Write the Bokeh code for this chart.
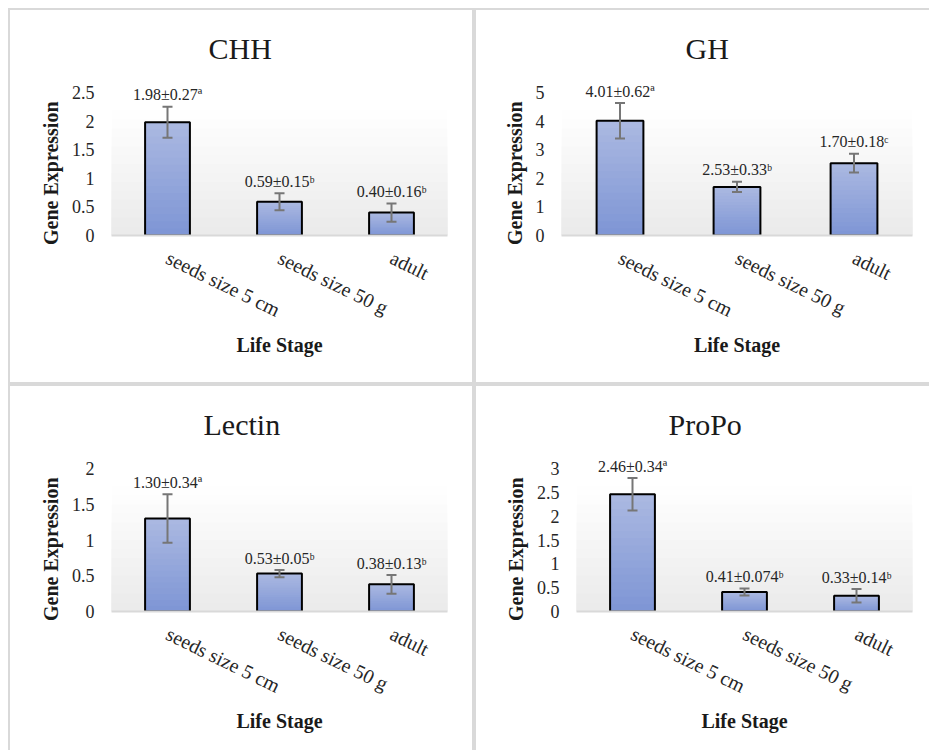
import math
from bokeh.plotting import figure
from bokeh.models import (FactorRange, Range1d, FixedTicker, LabelSet, Whisker, Title,
                          ColumnDataSource, BoxAnnotation, TeeHead)
from bokeh.layouts import row, column
from bokeh.embed import file_html
from bokeh.resources import INLINE

# ---------------- data ----------------
CATEGORIES = ["seeds size 5 cm", "seeds size 50 g", "adult"]

CHH_MEAN = [1.98, 0.59, 0.40]
CHH_ERR = [0.27, 0.15, 0.16]
CHH_LABELS = ["1.98±0.27ª", "0.59±0.15ᵇ", "0.40±0.16ᵇ"]
CHH_TICKS = [0, 0.5, 1, 1.5, 2, 2.5]

GH_MEAN = [4.01, 1.70, 2.53]
GH_ERR = [0.62, 0.18, 0.33]
GH_LABELS = ["4.01±0.62ª", "2.53±0.33ᵇ", "1.70±0.18ᶜ"]
GH_TICKS = [0, 1, 2, 3, 4, 5]

LECTIN_MEAN = [1.30, 0.53, 0.38]
LECTIN_ERR = [0.34, 0.05, 0.13]
LECTIN_LABELS = ["1.30±0.34ª", "0.53±0.05ᵇ", "0.38±0.13ᵇ"]
LECTIN_TICKS = [0, 0.5, 1, 1.5, 2]

PROPO_MEAN = [2.46, 0.41, 0.33]
PROPO_ERR = [0.34, 0.074, 0.14]
PROPO_LABELS = ["2.46±0.34ª", "0.41±0.074ᵇ", "0.33±0.14ᵇ"]
PROPO_TICKS = [0, 0.5, 1, 1.5, 2, 2.5, 3]

X_TITLE = "Life Stage"
Y_TITLE = "Gene Expression"

SERIF = "Liberation Serif"
BORDER = "2px solid #d9d9d9"
TOPTICK = 82   # canvas y of the highest tick


def lerp(c1, c2, t):
    return "#%02x%02x%02x" % tuple(round(a + (b - a) * t) for a, b in zip(c1, c2))


def panel(title, mean, err, labels, ticks, w, h, L, R, T, B, title_left, borders):
    ymax = ticks[-1]
    y_end = ymax * (B - T) / (B - TOPTICK)
    p = figure(x_range=FactorRange(*CATEGORIES, range_padding=0),
               y_range=Range1d(0, y_end),
               width=w, height=h, output_backend="svg", toolbar_location=None,
               min_border_left=L, min_border_right=w - R,
               min_border_top=T, min_border_bottom=h - B,
               background_fill_color="white", border_fill_color="white",
               outline_line_color=None, title=None,
               styles={k: BORDER for k in borders})
    p.grid.grid_line_color = None

    # plot-area gradient (white at top -> light grey at bottom)
    n_bg = 14
    for k in range(n_bg):
        frac = (n_bg - k) / n_bg
        col = lerp((255, 255, 255), (234, 234, 234), (k + 0.5) / n_bg)
        p.add_layout(BoxAnnotation(bottom=0, top=ymax * 0.875 * frac, fill_color=col,
                                   fill_alpha=1, line_color=None, level="underlay"))

    # bars with vertical gradient fill
    n_sl = 16
    top_c, bot_c = (170, 184, 225), (127, 150, 213)
    for k in range(n_sl):
        frac = (n_sl - k) / n_sl
        col = lerp(top_c, bot_c, k / (n_sl - 1))
        p.vbar(x=CATEGORIES, top=[m * frac for m in mean], width=0.4,
               fill_color=col, line_color=None)
    p.vbar(x=CATEGORIES, top=mean, width=0.4, fill_color=None,
           line_color="#000000", line_width=2)

    src = ColumnDataSource(dict(x=CATEGORIES,
                                upper=[m + e for m, e in zip(mean, err)],
                                lower=[m - e for m, e in zip(mean, err)],
                                text=labels))
    wc = "#767676"
    p.add_layout(Whisker(base="x", upper="upper", lower="lower", source=src,
                         line_color=wc, line_width=2, level="annotation",
                         upper_head=TeeHead(size=10, line_color=wc, line_width=2),
                         lower_head=TeeHead(size=10, line_color=wc, line_width=2)))
    p.add_layout(LabelSet(x="x", y="upper", text="text", source=src, y_offset=12,
                          text_align="center", text_baseline="middle",
                          text_font=SERIF, text_font_size="16px", text_color="#262626"))

    # axes
    p.yaxis.ticker = FixedTicker(ticks=ticks)
    p.yaxis.major_label_overrides = {t: f"{t:g}" for t in ticks}
    p.yaxis.axis_line_color = None
    p.yaxis.major_tick_line_color = None
    p.yaxis.minor_tick_line_color = None
    p.yaxis.major_tick_out = 0
    p.yaxis.major_tick_in = 0
    p.yaxis.major_label_standoff = 17
    p.yaxis.major_label_text_font = SERIF
    p.yaxis.major_label_text_font_size = "18px"
    p.yaxis.major_label_text_color = "#262626"

    p.xaxis.axis_line_color = "#d9d9d9"
    p.xaxis.axis_line_width = 2
    p.xaxis.major_tick_line_color = None
    p.xaxis.minor_tick_line_color = None
    p.xaxis.major_tick_out = 0
    p.xaxis.major_tick_in = 0
    p.xaxis.major_label_orientation = -0.454
    p.xaxis.major_label_standoff = 21
    p.xaxis.major_label_text_font = SERIF
    p.xaxis.major_label_text_font_size = "20px"
    p.xaxis.major_label_text_color = "#262626"
    p.xaxis.axis_label = X_TITLE
    p.xaxis.axis_label_standoff = 0
    p.xaxis.axis_label_text_font = SERIF
    p.xaxis.axis_label_text_font_size = "20px"
    p.xaxis.axis_label_text_font_style = "bold"
    p.xaxis.axis_label_text_color = "#1a1a1a"

    # panel title above (left-aligned with an offset so it sits centred on the panel)
    p.add_layout(Title(text=title, align="left", offset=title_left - L,
                       standoff=23, text_font=SERIF, text_font_size="30px",
                       text_font_style="normal", text_color="#1a1a1a"), "above")
    # y axis title as a left-side title
    p.add_layout(Title(text=Y_TITLE, align="left", offset=B - 234.5,
                       standoff=13, text_font=SERIF, text_font_size="20px",
                       text_font_style="bold", text_color="#1a1a1a"), "left")
    return p


p1 = panel("CHH", CHH_MEAN, CHH_ERR, CHH_LABELS, CHH_TICKS,
           466, 376, 101, 437, 66, 225, 198,
           ["border-left", "border-top", "border-right", "border-bottom"])
p2 = panel("GH", GH_MEAN, GH_ERR, GH_LABELS, GH_TICKS,
           455, 376, 85, 436, 66, 225, 209,
           ["border-left", "border-top", "border-bottom"])
p3 = panel("Lectin", LECTIN_MEAN, LECTIN_ERR, LECTIN_LABELS, LECTIN_TICKS,
           466, 366, 101, 437, 66, 225, 193,
           ["border-left", "border-top", "border-right"])
p4 = panel("ProPo", PROPO_MEAN, PROPO_ERR, PROPO_LABELS, PROPO_TICKS,
           455, 366, 100, 436, 66, 225, 192,
           ["border-left", "border-top"])

layout = column(row(p1, p2), row(p3, p4),
                styles={"margin-left": "8px", "margin-top": "8px"})
open("out.html", "w").write(file_html(layout, INLINE))
